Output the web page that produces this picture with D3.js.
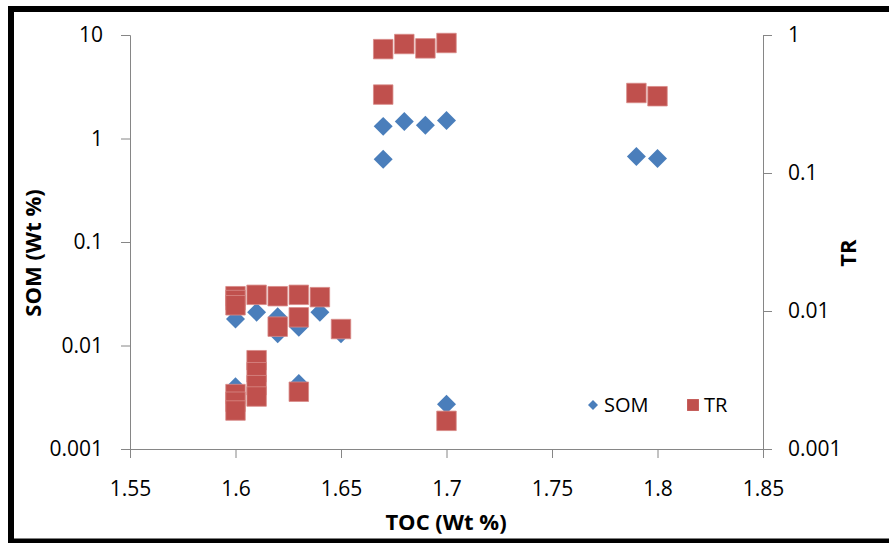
<!DOCTYPE html>
<html>
<head>
<meta charset="utf-8">
<script src="https://cdn.jsdelivr.net/npm/d3@7"></script>
<style>
  body { margin: 0; background: #fff; }
  svg { display: block; font-family: "Open Sans", sans-serif; }
  .axis path, .axis line { stroke: #868686; }
  .axis text { font-size: 21px; fill: #000; font-family: "Open Sans", sans-serif; }
</style>
</head>
<body>
<svg id="chart" width="889" height="543"></svg>
<script>
// SOM series (left axis)
const somToc = [1.60, 1.61, 1.62, 1.62, 1.63, 1.64, 1.65, 1.60, 1.63, 1.70, 1.67, 1.67, 1.68, 1.69, 1.70, 1.79, 1.80];
const somVal = [0.018, 0.021, 0.019, 0.013, 0.015, 0.021, 0.013, 0.004, 0.0043, 0.0027, 1.31, 0.63, 1.46, 1.34, 1.49, 0.67, 0.64];

// TR series (right axis)
const trToc = [1.60, 1.60, 1.60, 1.61, 1.62, 1.62, 1.63, 1.63, 1.64, 1.65, 1.60, 1.60, 1.60, 1.61, 1.61, 1.61, 1.61, 1.63, 1.70, 1.67, 1.67, 1.68, 1.69, 1.70, 1.79, 1.80];
const trVal = [0.0128, 0.012, 0.011, 0.0131, 0.0128, 0.0077, 0.0131, 0.009, 0.0126, 0.0074, 0.0025, 0.0022, 0.0019, 0.0044, 0.0036, 0.0029, 0.0024, 0.0026, 0.0016, 0.37, 0.79, 0.86, 0.80, 0.875, 0.38, 0.36];

const xTicks = [1.55, 1.6, 1.65, 1.7, 1.75, 1.8, 1.85];
const leftTicks = [0.001, 0.01, 0.1, 1, 10];
const rightTicks = [0.001, 0.01, 0.1, 1];

const svg = d3.select("#chart");
const plotL = 130, plotR = 763, plotT = 35, plotB = 449;

const x = d3.scaleLinear().domain([1.55, 1.85]).range([plotL, plotR]);
const yL = d3.scaleLog().domain([0.001, 10]).range([plotB, plotT]);
const yR = d3.scaleLog().domain([0.001, 1]).range([plotB, plotT]);

// outer frame
svg.append("rect")
    .attr("x", 11).attr("y", 9)
    .attr("width", 900).attr("height", 532.5)
    .attr("fill", "none")
    .attr("stroke", "#000")
    .attr("stroke-width", 6);

const fmt = d => String(d);

svg.append("g").attr("class", "axis")
    .attr("transform", `translate(0,${plotB})`)
    .call(d3.axisBottom(x).tickValues(xTicks).tickFormat(fmt).tickSizeOuter(0).tickSize(9).tickPadding(23));

svg.append("g").attr("class", "axis")
    .attr("transform", `translate(${plotL},0)`)
    .call(d3.axisLeft(yL).tickValues(leftTicks).tickFormat(fmt).tickSizeOuter(0).tickSize(9).tickPadding(18));

svg.append("g").attr("class", "axis")
    .attr("transform", `translate(${plotR},0)`)
    .call(d3.axisRight(yR).tickValues(rightTicks).tickFormat(fmt).tickSizeOuter(0).tickSize(9).tickPadding(16));

const diamond = d3.symbol().type(d3.symbolSquare).size(180);
const square = d3.symbol().type(d3.symbolSquare).size(380);

svg.append("g").selectAll("path")
    .data(somToc.map((t, i) => [t, somVal[i]]))
    .join("path")
    .attr("d", diamond)
    .attr("transform", d => `translate(${x(d[0])},${yL(d[1])}) rotate(45)`)
    .attr("fill", "#4a7ebb");

svg.append("g").selectAll("path")
    .data(trToc.map((t, i) => [t, trVal[i]]))
    .join("path")
    .attr("d", square)
    .attr("transform", d => `translate(${x(d[0])},${yR(d[1])})`)
    .attr("fill", "#c0504d")
    .attr("stroke", "#d88a88")
    .attr("stroke-width", 0.8);

// legend
const lg = svg.append("g");
lg.append("path")
    .attr("d", d3.symbol().type(d3.symbolSquare).size(50))
    .attr("transform", "translate(593,405) rotate(45)")
    .attr("fill", "#4a7ebb");
lg.append("text").attr("x", 604).attr("y", 405).attr("dy", "0.35em")
    .attr("font-size", 20).text("SOM");
lg.append("path")
    .attr("d", d3.symbol().type(d3.symbolSquare).size(140))
    .attr("transform", "translate(693,405)")
    .attr("fill", "#c0504d");
lg.append("text").attr("x", 704).attr("y", 405).attr("dy", "0.35em")
    .attr("font-size", 20).text("TR");

// axis titles
svg.append("text")
    .attr("x", 446).attr("y", 522).attr("dy", "0.35em")
    .attr("text-anchor", "middle")
    .attr("font-size", 22).attr("font-weight", "bold")
    .text("TOC (Wt %)");

svg.append("text")
    .attr("transform", "translate(33,253) rotate(-90)")
    .attr("dy", "0.35em")
    .attr("text-anchor", "middle")
    .attr("font-size", 22).attr("font-weight", "bold")
    .text("SOM (Wt %)");

svg.append("text")
    .attr("transform", "translate(848,253) rotate(-90)")
    .attr("dy", "0.35em")
    .attr("text-anchor", "middle")
    .attr("font-size", 22).attr("font-weight", "bold")
    .text("TR");
</script>
</body>
</html>
